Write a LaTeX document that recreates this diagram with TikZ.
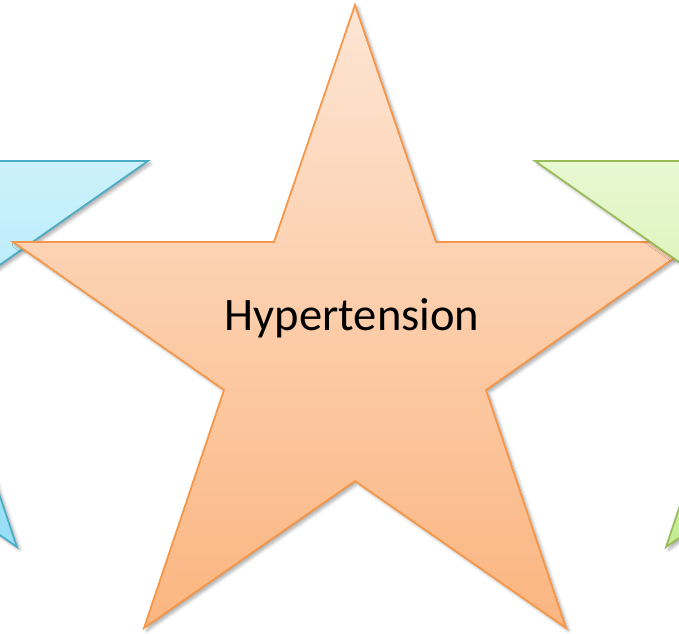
\documentclass[tikz,border=0pt]{standalone}
\usepackage{fontspec}
\setmainfont{Carlito}
\usetikzlibrary{shadows.blur}
\definecolor{bluetop}{RGB}{237,254,255}
\definecolor{bluebot}{RGB}{150,222,246}
\definecolor{blueline}{RGB}{75,172,198}
\definecolor{orangetop}{RGB}{253,229,212}
\definecolor{orangebot}{RGB}{251,181,128}
\definecolor{orangeline}{RGB}{247,150,70}
\definecolor{greentop}{RGB}{254,255,245}
\definecolor{greenbot}{RGB}{196,236,148}
\definecolor{greenline}{RGB}{155,187,89}
\tikzset{
  starblue/.style={draw=blueline, line width=1pt, top color=bluetop, bottom color=bluebot, line join=miter,
    blur shadow={shadow xshift=1.5pt, shadow yshift=-1.5pt, shadow blur steps=6, shadow opacity=35}},
  starorange/.style={draw=orangeline, line width=1pt, top color=orangetop, bottom color=orangebot, line join=miter,
    blur shadow={shadow xshift=1.5pt, shadow yshift=-1.5pt, shadow blur steps=6, shadow opacity=35}},
  stargreen/.style={draw=greenline, line width=1pt, top color=greentop, bottom color=greenbot, line join=miter,
    blur shadow={shadow xshift=1.5pt, shadow yshift=-1.5pt, shadow blur steps=6, shadow opacity=35}},
}
% five-pointed star, #1 style, #2 centre
\newcommand{\pentastar}[2]{%
  \draw[#1, shift={#2}] (0,-344) -- (81,-107) -- (342,-107) -- (131,41) -- (211,279)
    -- (0,132) -- (-211,279) -- (-131,41) -- (-342,-107) -- (-81,-107) -- cycle;}
\begin{document}
\begin{tikzpicture}[x=0.02cm, y=-0.02cm]
  \useasboundingbox (0,0) rectangle (679,634);
  \clip (0,0) rectangle (679,634);
  % stars left to right
  \pentastar{starblue}{(-194,268)}
  \pentastar{starorange}{(355,349)}
  \pentastar{stargreen}{(877,268)}
  \node[font=\fontsize{26.5}{32}\selectfont] (hyper) at (352,318) {Hypertension};
\end{tikzpicture}
\end{document}
